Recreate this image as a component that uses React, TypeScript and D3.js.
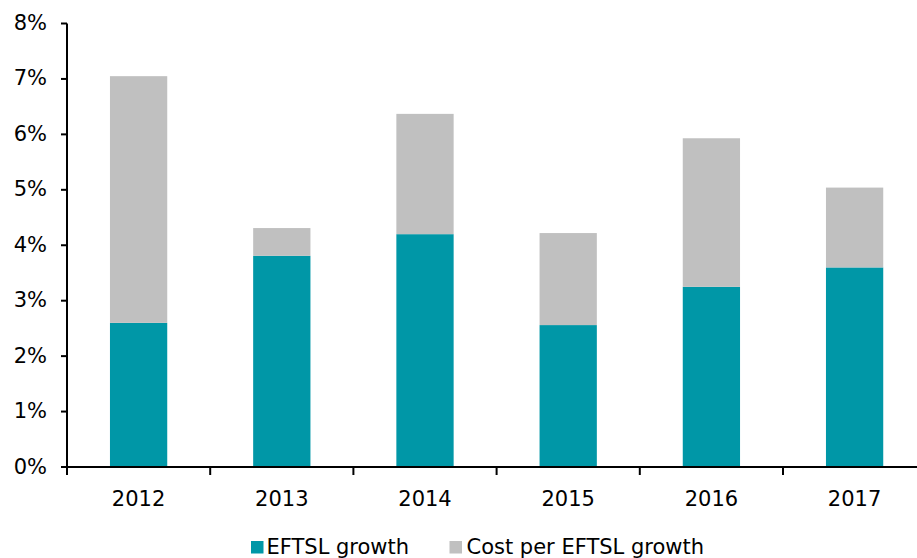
import React from "react";
import * as d3 from "d3";

const years = ["2012", "2013", "2014", "2015", "2016", "2017"];
const eftslGrowth = [2.6, 3.81, 4.2, 2.56, 3.25, 3.6];
const costPerEftslGrowth = [4.45, 0.5, 2.17, 1.66, 2.68, 1.44];
const yTicks = [0, 1, 2, 3, 4, 5, 6, 7, 8];
const seriesNames = ["EFTSL growth", "Cost per EFTSL growth"];
const colors = ["#0097A7", "#C0C0C0"];

const W = 917;
const H = 558;
const left = 67;
const x0 = 467;
const x8 = 23.5;
const step = 143.2;
const fs = 21;

export default function App() {
  const x = d3
    .scaleBand<string>()
    .domain(years)
    .range([left, left + step * years.length])
    .paddingInner(0.6)
    .paddingOuter(0.3);
  const y = d3.scaleLinear().domain([0, 8]).range([x0, x8]);
  const font = "'DejaVu Sans', Verdana, sans-serif";

  const stacked = years.map((yr, i) => ({
    yr,
    parts: [
      { y0: 0, y1: eftslGrowth[i], c: colors[0] },
      { y0: eftslGrowth[i], y1: eftslGrowth[i] + costPerEftslGrowth[i], c: colors[1] },
    ],
  }));

  return (
    <svg
      width={W}
      height={H}
      style={{ position: "absolute", left: 0, top: 0, background: "#fff" }}
    >
      {stacked.map((d) =>
        d.parts.map((p, j) => (
          <rect
            key={d.yr + j}
            x={x(d.yr)}
            width={x.bandwidth()}
            y={y(p.y1)}
            height={y(p.y0) - y(p.y1)}
            fill={p.c}
          />
        ))
      )}
      {/* y axis */}
      <line x1={left} x2={left} y1={y(8)} y2={y(0) + 8} stroke="#000" strokeWidth={2} />
      {yTicks.map((t) => (
        <g key={t}>
          <line x1={left - 6} x2={left} y1={y(t)} y2={y(t)} stroke="#000" strokeWidth={2} />
          <text
            x={47}
            y={y(t) + 6.5}
            textAnchor="end"
            fontFamily={font}
            fontSize={fs}
            fill="#000"
          >
            {t}%
          </text>
        </g>
      ))}
      {/* x axis */}
      <line x1={left} x2={W} y1={y(0)} y2={y(0)} stroke="#000" strokeWidth={2} />
      {years.map((yr, i) => (
        <line
          key={"tk" + yr}
          x1={left + step * i}
          x2={left + step * i}
          y1={y(0)}
          y2={y(0) + 8}
          stroke="#000"
          strokeWidth={2}
        />
      ))}
      {years.map((yr) => (
        <text
          key={"lb" + yr}
          x={(x(yr) as number) + x.bandwidth() / 2}
          y={506}
          textAnchor="middle"
          fontFamily={font}
          fontSize={fs}
          fill="#000"
        >
          {yr}
        </text>
      ))}
      {/* legend */}
      <rect x={251} y={541} width={12.5} height={12.5} fill={colors[0]} />
      <text x={266.5} y={553.5} fontFamily={font} fontSize={fs} fill="#000">
        {seriesNames[0]}
      </text>
      <rect x={449.5} y={541} width={12.5} height={12.5} fill={colors[1]} />
      <text x={466.5} y={553.5} fontFamily={font} fontSize={fs} fill="#000">
        {seriesNames[1]}
      </text>
    </svg>
  );
}
